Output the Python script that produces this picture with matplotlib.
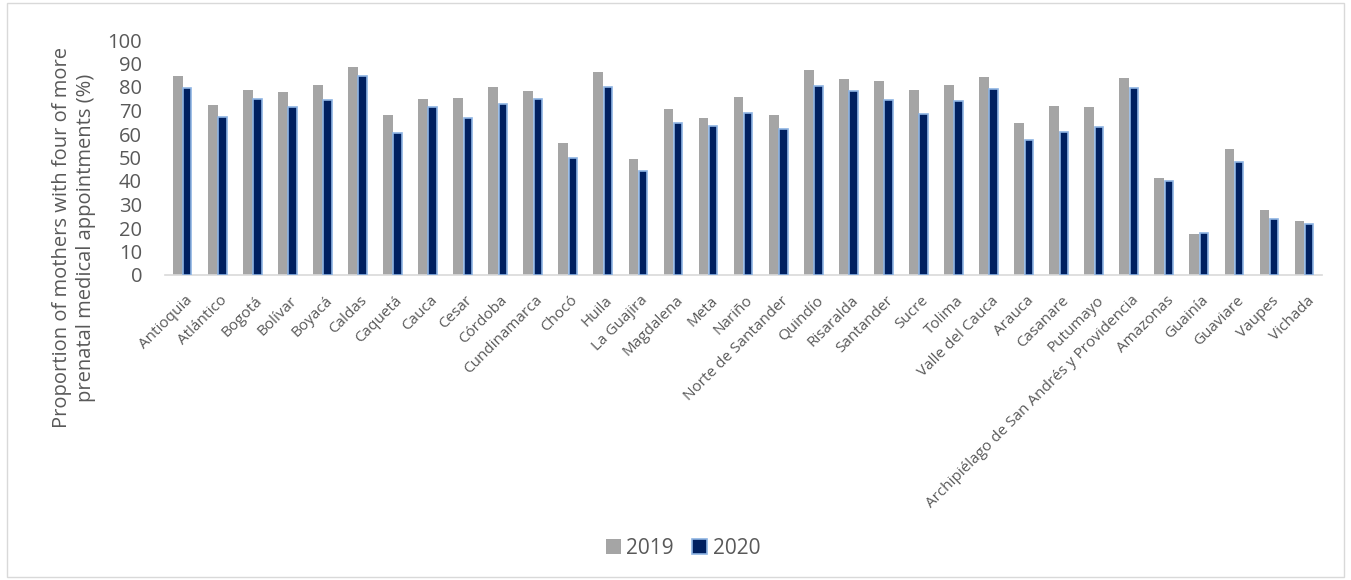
import numpy as np
import matplotlib
matplotlib.use("Agg")
import matplotlib.pyplot as plt
import matplotlib.transforms as mtransforms
from matplotlib.patches import Rectangle

plt.rcParams['font.family'] = ['Open Sans', 'DejaVu Sans']

departments = ["Antioquia", "Atlántico", "Bogotá", "Bolívar", "Boyacá", "Caldas", "Caquetá",
               "Cauca", "Cesar", "Córdoba", "Cundinamarca", "Chocó", "Huila", "La Guajira",
               "Magdalena", "Meta", "Nariño", "Norte de Santander", "Quindío", "Risaralda",
               "Santander", "Sucre", "Tolima", "Valle del Cauca", "Arauca", "Casanare",
               "Putumayo", "Archipiélago de San Andrés y Providencia", "Amazonas", "Guainía",
               "Guaviare", "Vaupes", "Vichada"]
y2019 = [84.6, 72.5, 78.9, 77.7, 80.7, 88.6, 67.9, 75.1, 75.5, 79.9, 78.2, 56.2, 86.5, 49.5,
         70.8, 67.0, 75.8, 68.1, 87.1, 83.5, 82.5, 78.8, 80.9, 84.1, 64.6, 72.1, 71.3, 83.9,
         41.1, 17.6, 53.8, 27.5, 22.8]
y2020 = [79.5, 67.4, 75.1, 71.3, 74.4, 84.8, 60.5, 71.4, 66.6, 72.8, 75.0, 49.6, 79.9, 44.2,
         64.6, 63.2, 69.0, 62.2, 80.5, 78.2, 74.5, 68.7, 74.0, 79.1, 57.6, 61.0, 62.9, 79.7,
         40.1, 17.8, 48.2, 24.0, 21.8]

gray = "#A5A5A5"
navy = "#002060"
edge = "#8EB4E3"
txt = "#595959"

fig = plt.figure(figsize=(13.51, 5.80), dpi=100)
ax = fig.add_axes([165 / 1351, 1 - 275 / 580, 1157 / 1351, 235 / 580])

x = np.arange(len(departments))
ax.bar(x - 0.14, y2019, 0.28, color=gray, label="2019", zorder=2)
ax.bar(x + 0.135, y2020, 0.24, color=navy, edgecolor=edge, linewidth=1.2, label="2020", zorder=3)

ax.set_xlim(-0.5, len(departments) - 0.5)
ax.set_ylim(0, 100)
ax.set_yticks(range(0, 101, 10))
ax.tick_params(axis='y', length=0, pad=16.5, labelsize=14.5, labelcolor=txt)
ax.tick_params(axis='x', length=0, pad=13)
ax.set_xticks(x)
ax.set_xticklabels(departments, rotation=45, ha='right', rotation_mode='anchor',
                   fontsize=11, color=txt)
# nudge rotated labels so their ends sit just under the bars
offset = mtransforms.ScaledTranslation(2 / 100, 0, fig.dpi_scale_trans)
for lab in ax.get_xticklabels():
    lab.set_transform(lab.get_transform() + offset)

for s in ['top', 'right', 'left']:
    ax.spines[s].set_visible(False)
ax.spines['bottom'].set_color("#D9D9D9")
ax.spines['bottom'].set_linewidth(1.2)

fig.text(74 / 1351, 1 - 238 / 580,
         "Proportion of mothers with four of more\nprenatal medical appointments (%)",
         rotation=90, ha='center', va='center', fontsize=14.5, color=txt, linespacing=1.3)

fig.legend(loc='center', bbox_to_anchor=(683 / 1351, 1 - 548 / 580), ncol=2, frameon=False,
           fontsize=15, labelcolor=txt, handlelength=0.72, handleheight=0.72,
           handletextpad=0.25, columnspacing=0.9)

fig.patches.append(Rectangle((7 / 1351, 3 / 580), 1337 / 1351, 574 / 580, transform=fig.transFigure,
                             fill=False, edgecolor="#D9D9D9", linewidth=1))

fig.savefig("out.png", dpi=100)
